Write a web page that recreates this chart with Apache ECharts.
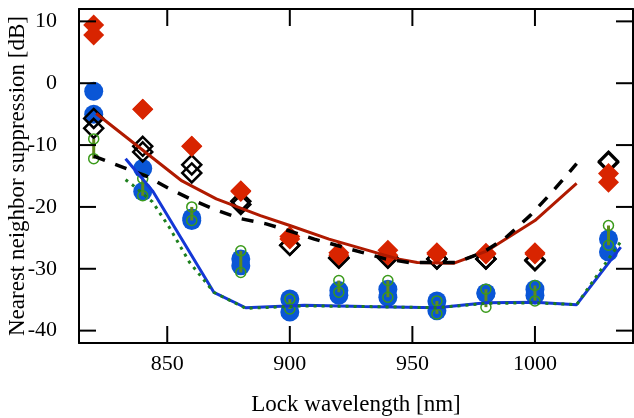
<!DOCTYPE html>
<html>
<head>
<meta charset="utf-8">
<script src="https://cdn.jsdelivr.net/npm/echarts@6/dist/echarts.min.js"></script>
<style>
  html, body { margin: 0; padding: 0; background: #fff; }
  #chart { width: 634px; height: 418px; }
</style>
</head>
<body>
<div id="chart"></div>
<script>
// measured points, two runs per lock wavelength
const wavelengths = [820, 840, 860, 880, 900, 920, 940, 960, 980, 1000, 1030];

const redA = [9.4, -4.2, -10.2, -17.4, -24.8, -27.4, -27.0, -27.4, -27.5, -27.4, -14.6];
const redB = [7.8, -4.2, -10.2, -17.5, -25.2, -27.8, -27.8, -27.6, -27.6, -27.6, -16.0];

const blackA = [-5.7, -10.2, -13.2, -19.1, -26.2, -28.2, -28.2, -28.4, -28.4, -28.6, -12.6];
const blackB = [-7.3, -11.1, -14.5, -19.6, -26.2, -28.3, -28.3, -28.4, -28.4, -28.7, -12.8];

const blueA = [-1.3, -13.8, -21.8, -28.4, -34.9, -33.5, -33.3, -35.2, -33.9, -33.3, -25.2];
const blueB = [-5.0, -17.5, -22.2, -29.5, -37.0, -34.3, -34.6, -36.8, -34.0, -34.3, -27.3];

const greenHi = [-9.0, -15.4, -20.0, -27.1, -34.9, -31.9, -31.9, -35.2, -33.3, -32.7, -23.0];
const greenLo = [-12.2, -18.2, -22.2, -30.6, -36.5, -33.8, -34.6, -37.3, -36.2, -35.2, -26.2];

// simulated curves
const redLineX = [821, 856, 870, 888, 900, 916, 944, 952, 967, 980, 1000, 1017];
const redLineY = [-4.9, -15.8, -18.7, -21.4, -23.0, -25.2, -28.4, -29.0, -29.1, -27.2, -22.2, -16.2];

const dashLineX = [820, 832, 842, 851, 861, 870, 880, 890, 900, 910, 919, 929, 939, 949, 968, 979, 988, 998, 1007, 1017];
const dashLineY = [-11.8, -13.6, -15.1, -17.1, -19.0, -20.5, -21.9, -22.7, -23.9, -25.2, -26.2, -27.3, -28.4, -29.0, -29.0, -27.3, -25.0, -21.4, -17.6, -13.0];

const blueLineX = [833, 844, 869, 882, 906, 930, 960, 980, 1000, 1017, 1035];
const blueLineY = [-12.2, -17.4, -33.8, -36.3, -35.9, -36.1, -36.3, -35.5, -35.4, -35.8, -26.5];

const greenLineX = [833, 836, 844, 851, 859, 869, 882, 906, 930, 960, 980, 1000, 1017, 1035];
const greenLineY = [-15.6, -16.5, -19.2, -23.4, -28.9, -33.8, -36.4, -36.0, -36.1, -36.3, -35.6, -35.5, -35.8, -25.6];

const xRange = [814, 1040];
const yRange = [-42, 12];
const xTicks = [850, 900, 950, 1000];
const yTicks = [-40, -30, -20, -10, 0, 10];

const font = 'Liberation Serif';
const pairs = (xs, ys) => xs.map((x, i) => [x, ys[i]]);
const TICK = 17;

const chart = echarts.init(document.getElementById('chart'));

const axisLine = { show: true, onZero: false, lineStyle: { color: '#000', width: 2 } };

const scatter = (data, symbol, size, style, z) => ({
  type: 'scatter',
  data: data,
  symbol: symbol,
  symbolSize: size,
  itemStyle: Object.assign({ opacity: 1 }, style),
  z: z,
  silent: true,
});

const line = (data, color, type, width, z) => ({
  type: 'line',
  data: data,
  symbol: 'none',
  lineStyle: { color: color, type: type, width: width, cap: 'butt' },
  z: z,
  silent: true,
});

// inward tick on one side of the frame; the tick value goes through the axis scale,
// the frame edge comes from the grid rect
const midX = (xRange[0] + xRange[1]) / 2;
const midY = (yRange[0] + yRange[1]) / 2;
const tickSeg = (side, values) => ({
  type: 'custom',
  data: values.map(v => (side === 'bottom' || side === 'top') ? [v, midY, midY] : [midX, v, v]),
  encode: { x: 0, y: [1, 2] },
  z: 10,
  clip: false,
  silent: true,
  renderItem: (params, api) => {
    const p = api.coord([api.value(0), api.value(1)]);
    const lo = api.coord([xRange[0], yRange[0]]);
    const hi = api.coord([xRange[1], yRange[1]]);
    let shape;
    if (side === 'bottom') shape = { x1: p[0], y1: lo[1], x2: p[0], y2: lo[1] - TICK };
    else if (side === 'top') shape = { x1: p[0], y1: hi[1], x2: p[0], y2: hi[1] + TICK };
    else if (side === 'left') shape = { x1: lo[0], y1: p[1], x2: lo[0] + TICK, y2: p[1] };
    else shape = { x1: hi[0], y1: p[1], x2: hi[0] - TICK, y2: p[1] };
    return { type: 'line', shape: shape, style: { stroke: '#000', lineWidth: 2 } };
  },
});

const option = {
  animation: false,
  grid: { left: 79, right: 1, top: 9, bottom: 75, containLabel: false, outerBoundsMode: 'none' },
  xAxis: [
    {
      type: 'value', min: xRange[0], max: xRange[1],
      axisLine: axisLine,
      axisTick: { show: false },
      axisLabel: { customValues: xTicks, formatter: v => String(v), margin: 10, fontFamily: font, fontSize: 22, color: '#000' },
      splitLine: { show: false },
      name: 'Lock wavelength [nm]', nameLocation: 'middle', nameGap: 50, nameMoveOverlap: false,
      nameTextStyle: { fontFamily: font, fontSize: 23, color: '#000' },
    },
    {
      type: 'value', min: xRange[0], max: xRange[1], position: 'top',
      axisLine: axisLine,
      axisTick: { show: false },
      axisLabel: { show: false },
      splitLine: { show: false },
    },
  ],
  yAxis: [
    {
      type: 'value', min: yRange[0], max: yRange[1],
      axisLine: axisLine,
      axisTick: { show: false },
      axisLabel: { customValues: yTicks, formatter: v => String(v), margin: 22, fontFamily: font, fontSize: 22, color: '#000' },
      splitLine: { show: false },
      name: 'Nearest neighbor suppression [dB]', nameLocation: 'middle', nameGap: 50, nameMoveOverlap: false,
      nameTextStyle: { fontFamily: font, fontSize: 23, color: '#000' },
    },
    {
      type: 'value', min: yRange[0], max: yRange[1], position: 'right',
      axisLine: axisLine,
      axisTick: { show: false },
      axisLabel: { show: false },
      splitLine: { show: false },
    },
  ],
  series: [
    scatter(pairs(wavelengths, blueA), 'circle', 19, { color: '#0a56d6' }, 2),
    scatter(pairs(wavelengths, blueB), 'circle', 19, { color: '#0a56d6' }, 2),
    scatter(pairs(wavelengths, blackA), 'diamond', 19, { color: 'rgba(0,0,0,0)', borderColor: '#000', borderWidth: 2.5 }, 3),
    scatter(pairs(wavelengths, blackB), 'diamond', 19, { color: 'rgba(0,0,0,0)', borderColor: '#000', borderWidth: 2.5 }, 3),
    scatter(pairs(wavelengths, redA), 'diamond', 21, { color: '#d82400' }, 4),
    scatter(pairs(wavelengths, redB), 'diamond', 21, { color: '#d82400' }, 4),
    {
      type: 'custom',
      data: wavelengths.map((w, i) => [w, greenHi[i], greenLo[i]]),
      encode: { x: 0, y: [1, 2] },
      z: 5,
      silent: true,
      renderItem: (params, api) => {
        const p1 = api.coord([api.value(0), api.value(1)]);
        const p2 = api.coord([api.value(0), api.value(2)]);
        return {
          type: 'line',
          shape: { x1: p1[0], y1: p1[1], x2: p2[0], y2: p2[1] },
          style: { stroke: '#5f8a1c', lineWidth: 3 },
        };
      },
    },
    scatter(pairs(wavelengths, greenHi), 'circle', 10, { color: 'rgba(0,0,0,0)', borderColor: '#3a9a1a', borderWidth: 1.5 }, 6),
    scatter(pairs(wavelengths, greenLo), 'circle', 10, { color: 'rgba(0,0,0,0)', borderColor: '#3a9a1a', borderWidth: 1.5 }, 6),
    line(pairs(redLineX, redLineY), '#b01a00', 'solid', 3, 7),
    line(pairs(dashLineX, dashLineY), '#000', [12, 11], 3.5, 7),
    line(pairs(blueLineX, blueLineY), '#1437d6', 'solid', 3, 8),
    line(pairs(greenLineX, greenLineY), '#1d7f1d', [3, 5], 3, 9),
    tickSeg('bottom', xTicks),
    tickSeg('top', xTicks),
    tickSeg('left', yTicks),
    tickSeg('right', yTicks),
  ],
};

chart.setOption(option);
window.addEventListener('resize', chart.resize);
</script>
</body>
</html>
